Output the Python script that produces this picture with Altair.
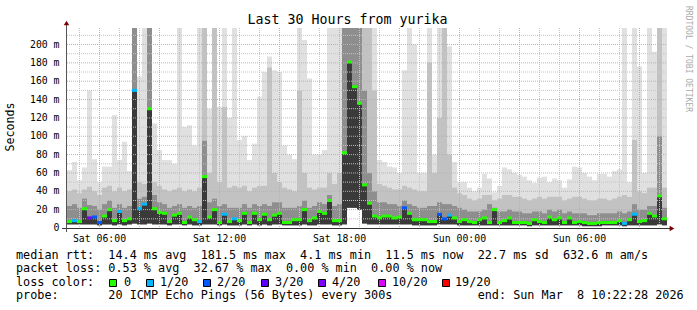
import altair as alt
import pandas as pd

# ---------------- data ----------------
# 120 bins of 15 minutes, Sat 04:22:28 -> Sun 10:22:28
med = [7, 8, 7, 21, 11, 12, 6, 13, 20, 8,
       18, 8, 10, 150, 21, 26, 130, 21, 17, 16,
       7, 14, 16, 6, 12, 9, 7, 56, 12, 20,
       6, 15, 7, 10, 8, 16, 6, 16, 9, 15,
       9, 14, 16, 6, 6, 9, 9, 20, 8, 11,
       18, 16, 30, 8, 8, 82, 181, 154, 136, 47,
       27, 13, 11, 13, 13, 11, 12, 22, 16, 9,
       9, 9, 7, 7, 15, 10, 14, 11, 7, 9,
       7, 6, 9, 11, 6, 20, 6, 8, 11, 6,
       6, 6, 5, 9, 7, 6, 12, 9, 11, 6,
       11, 6, 7, 6, 5, 5, 6, 6, 6, 6,
       8, 5, 9, 15, 7, 8, 16, 13, 35, 10]
hi = [63, 72, 52, 66, 150, 75, 50, 67, 67, 123,
      74, 94, 62, 220, 165, 220, 220, 114, 85, 74,
      74, 70, 220, 110, 112, 90, 220, 220, 130, 220,
      132, 220, 120, 220, 96, 100, 74, 92, 143, 170,
      187, 172, 170, 90, 80, 75, 220, 205, 163, 80,
      80, 85, 220, 220, 220, 220, 220, 220, 220, 220,
      220, 220, 74, 72, 67, 66, 60, 172, 220, 200,
      60, 60, 220, 80, 220, 220, 198, 72, 50, 50,
      44, 40, 44, 59, 54, 39, 46, 66, 64, 60,
      58, 56, 52, 49, 55, 56, 50, 54, 52, 44,
      53, 67, 66, 60, 56, 52, 59, 59, 56, 62,
      64, 220, 50, 220, 176, 60, 220, 192, 220, 220]
up = [40, 42, 38, 42, 45, 40, 36, 44, 46, 40,
      44, 40, 42, 220, 50, 48, 220, 50, 46, 42,
      40, 42, 44, 40, 42, 40, 44, 220, 60, 220,
      50, 132, 44, 46, 44, 46, 40, 44, 46, 46,
      175, 60, 50, 44, 42, 40, 150, 60, 44, 42,
      44, 44, 60, 48, 60, 220, 220, 220, 220, 220,
      220, 150, 48, 46, 44, 42, 42, 46, 44, 42,
      40, 40, 180, 60, 120, 220, 80, 44, 38, 36,
      32, 30, 32, 36, 36, 30, 32, 36, 36, 34,
      34, 32, 30, 32, 34, 32, 34, 34, 34, 30,
      32, 34, 34, 32, 30, 30, 32, 32, 30, 32,
      34, 36, 34, 96, 40, 38, 44, 44, 220, 44]
dk = [24, 26, 22, 32, 25, 24, 20, 26, 30, 22,
      26, 22, 24, 220, 32, 34, 220, 36, 28, 26,
      22, 24, 26, 22, 24, 22, 24, 95, 28, 32,
      24, 26, 22, 22, 22, 26, 22, 26, 24, 26,
      24, 28, 28, 22, 22, 22, 24, 30, 22, 24,
      28, 26, 36, 24, 26, 220, 220, 220, 220, 150,
      60, 40, 28, 28, 26, 26, 24, 30, 26, 24,
      22, 22, 24, 24, 28, 26, 26, 24, 22, 20,
      18, 18, 18, 20, 26, 22, 18, 18, 20, 18,
      18, 16, 16, 18, 18, 16, 20, 18, 20, 16,
      18, 16, 16, 16, 14, 14, 16, 16, 16, 16,
      18, 16, 18, 26, 20, 20, 24, 24, 100, 22]
lo = [4, 4, 4, 4, 4, 4, 3, 4, 4, 3,
      4, 3, 4, 5, 4, 4, 5, 4, 4, 4,
      3, 4, 4, 3, 4, 3, 3, 4, 4, 4,
      3, 4, 3, 3, 3, 4, 3, 4, 3, 4,
      3, 4, 4, 3, 3, 3, 3, 4, 3, 3,
      4, 4, 4, 3, 3, 4, 22, 22, 20, 5,
      4, 4, 4, 4, 4, 4, 4, 4, 4, 3,
      3, 3, 3, 3, 4, 4, 4, 4, 3, 3,
      3, 3, 3, 3, 3, 3, 3, 3, 3, 3,
      3, 3, 2, 3, 3, 3, 3, 3, 3, 3,
      3, 3, 3, 2, 2, 2, 2, 3, 3, 3,
      3, 2, 3, 3, 3, 3, 3, 3, 4, 3]
loss = ["0", "1/20", "0", "0", "4/20", "2/20", "2/20", "0", "0", "0",
        "1/20", "0", "0", "1/20", "1/20", "1/20", "0", "0", "0", "0",
        "0", "0", "0", "0", "0", "0", "1/20", "0", "0", "0",
        "0", "1/20", "0", "1/20", "0", "0", "0", "0", "0", "0",
        "0", "0", "0", "0", "0", "0", "0", "0", "0", "0",
        "0", "0", "0", "0", "0", "0", "0", "0", "0", "0",
        "0", "0", "0", "0", "0", "0", "0", "2/20", "0", "0",
        "0", "0", "0", "0", "2/20", "2/20", "1/20", "0", "0", "0",
        "0", "0", "0", "0", "0", "0", "0", "0", "0", "0",
        "0", "0", "0", "0", "0", "0", "0", "0", "0", "0",
        "0", "0", "0", "0", "0", "0", "0", "0", "0", "0",
        "0", "1/20", "0", "1/20", "0", "0", "0", "0", "0", "0"]

loss_labels = ["0", "1/20", "2/20", "3/20", "4/20", "10/20", "19/20"]
loss_colors = ["#26ff00", "#00b8ff", "#0059ff", "#5e00ff", "#7e00ff", "#dd00ff", "#ff0000"]

y_ticks = [0, 20, 40, 60, 80, 100, 120, 140, 160, 180, 200]
x_tick_labels = ["Sat 06:00", "Sat 12:00", "Sat 18:00", "Sun 00:00", "Sun 06:00"]
x_tick_minutes = [97.53, 457.53, 817.53, 1177.53, 1537.53]

title = "Last 30 Hours from yurika"
line1 = "median rtt:  14.4 ms avg  181.5 ms max  4.1 ms min  11.5 ms now  22.7 ms sd  632.6 m am/s"
line2 = "packet loss: 0.53 % avg  32.67 % max  0.00 % min  0.00 % now"
line3 = "loss color:"
line4 = "probe:       20 ICMP Echo Pings (56 Bytes) every 300s            end: Sun Mar  8 10:22:28 2026"

# ---------------- layout ----------------
L, T, W, H = 67, 28, 600, 200
YMAX = 218
BIN = 15
MONO = "DejaVu Sans Mono"

df = pd.DataFrame({"med": med, "hi": hi, "up": up, "dk": dk, "lo": lo, "loss": loss})
df["t0"] = [BIN * i for i in range(len(df))]
df["t1"] = df["t0"] + BIN
df["tc"] = df["t0"] + BIN / 2

XS = alt.Scale(domain=[0, 1800], nice=False, zero=False)
YS = alt.Scale(domain=[0, YMAX], nice=False, zero=False)
one = alt.Data(values=[{}])


def smoke(top, color):
    return alt.Chart(df).mark_rect(color=color, clip=True).encode(
        x=alt.X("t0:Q", scale=XS, axis=None), x2="t1:Q",
        y=alt.Y("lo:Q", scale=YS, axis=None), y2=f"{top}:Q")


layers = [smoke("hi", "#e0e0e0"), smoke("up", "#c2c2c2"), smoke("dk", "#8e8e8e"), smoke("med", "#3a3a3a")]

# grid
start_off = 37 + 32 / 60  # Sat 05:00 relative to start
hours = []
for k in range(30):
    m = start_off + 60 * k
    if m < 1800:
        hours.append({"m": m, "major": ((5 + k) % 24) % 3 == 0})
hdf = pd.DataFrame(hours)
minor_y = pd.DataFrame({"v": [10 + 20 * k for k in range(11)]})
major_y = pd.DataFrame({"v": y_ticks[1:]})

layers.append(alt.Chart(minor_y).mark_rule(color="#c4c4c4", strokeDash=[1, 1], strokeWidth=1).encode(
    y=alt.Y("v:Q", scale=YS, axis=None), x=alt.value(0), x2=alt.value(W)))
layers.append(alt.Chart(hdf[~hdf.major]).mark_rule(color="#c4c4c4", strokeDash=[1, 1], strokeWidth=1).encode(
    x=alt.X("m:Q", scale=XS, axis=None), y=alt.value(0), y2=alt.value(H)))
layers.append(alt.Chart(major_y).mark_rule(color="#f29a9a", strokeDash=[1, 1], strokeWidth=1).encode(
    y=alt.Y("v:Q", scale=YS, axis=None), x=alt.value(0), x2=alt.value(W)))
layers.append(alt.Chart(hdf[hdf.major]).mark_rule(color="#f29a9a", strokeDash=[1, 1], strokeWidth=1).encode(
    x=alt.X("m:Q", scale=XS, axis=None), y=alt.value(0), y2=alt.value(H)))

# median
layers.append(alt.Chart(df).mark_tick(orient="horizontal", size=5, thickness=3, opacity=1).encode(
    x=alt.X("tc:Q", scale=XS, axis=None),
    y=alt.Y("med:Q", scale=YS, axis=None),
    color=alt.Color("loss:N", scale=alt.Scale(domain=loss_labels, range=loss_colors), legend=None)))

# axes lines and arrows
layers.append(alt.Chart(one).mark_rule(color="#333333", strokeWidth=1).encode(
    x=alt.value(-5), x2=alt.value(604), y=alt.value(H + 0.5)))
layers.append(alt.Chart(one).mark_rule(color="#555555", strokeWidth=1).encode(
    x=alt.value(-0.5), y=alt.value(-4), y2=alt.value(H + 4)))
layers.append(alt.Chart(one).mark_point(shape="triangle-up", filled=True, color="#7f0000", size=30, opacity=1).encode(
    x=alt.value(-0.5), y=alt.value(-5)))
layers.append(alt.Chart(one).mark_point(shape="triangle-right", filled=True, color="#7f0000", size=30, opacity=1).encode(
    x=alt.value(605), y=alt.value(H + 0.5)))

# axis labels
ylab = pd.DataFrame({"v": y_ticks, "lab": ["0" if v == 0 else f"{v} m" for v in y_ticks]})
layers.append(alt.Chart(ylab).mark_text(font=MONO, fontSize=9.8, align="right", baseline="middle", color="black").encode(
    y=alt.Y("v:Q", scale=YS, axis=None), x=alt.value(-7.5), text="lab:N"))
xlab = pd.DataFrame({"m": x_tick_minutes, "lab": x_tick_labels})
layers.append(alt.Chart(xlab).mark_text(font=MONO, fontSize=9.8, align="center", baseline="alphabetic", color="black").encode(
    x=alt.X("m:Q", scale=XS, axis=None), y=alt.value(242 - T), text="lab:N"))


def txt(s, x, y, size=11.8, align="left", baseline="alphabetic", angle=0, color="black"):
    return alt.Chart(one).mark_text(text=s.replace(" ", "\u00a0"), font=MONO, fontSize=size, align=align,
                                    baseline=baseline, angle=angle, color=color).encode(
        x=alt.value(x - L), y=alt.value(y - T))


layers.append(txt(title, 347.5, 24, size=13.3, align="center"))
layers.append(txt("Seconds", 11, 127, size=11.6, align="center", baseline="middle", angle=270))
layers.append(txt("RRDTOOL / TOBI OETIKER", 687.5, 59, size=8, align="center", baseline="middle", angle=90,
                  color="#aaaaaa"))
layers.append(txt(line1, 16, 259))
layers.append(txt(line2, 16, 272))
layers.append(txt(line3, 16, 286))
sq_x = [109, 146, 203, 261, 318, 378, 442]
lab_x = [124, 160, 217, 275, 332, 392, 455]
for lab, col, sx, lx in zip(loss_labels, loss_colors, sq_x, lab_x):
    layers.append(alt.Chart(one).mark_rect(fill=col, stroke="black", strokeWidth=1).encode(
        x=alt.value(sx - L + 0.5), x2=alt.value(sx - L + 7.5), y=alt.value(279.5 - T), y2=alt.value(286.5 - T)))
    layers.append(txt(lab, lx, 286))
layers.append(txt(line4, 16, 299))

chart = alt.layer(*layers).properties(
    width=W, height=H,
    autosize=alt.AutoSizeParams(type="none"),
    padding={"left": L, "top": T, "right": 697 - L - W, "bottom": 310 - T - H},
).configure_view(stroke=None)

chart.save("out.html", embed_options={"renderer": "svg", "actions": False})
